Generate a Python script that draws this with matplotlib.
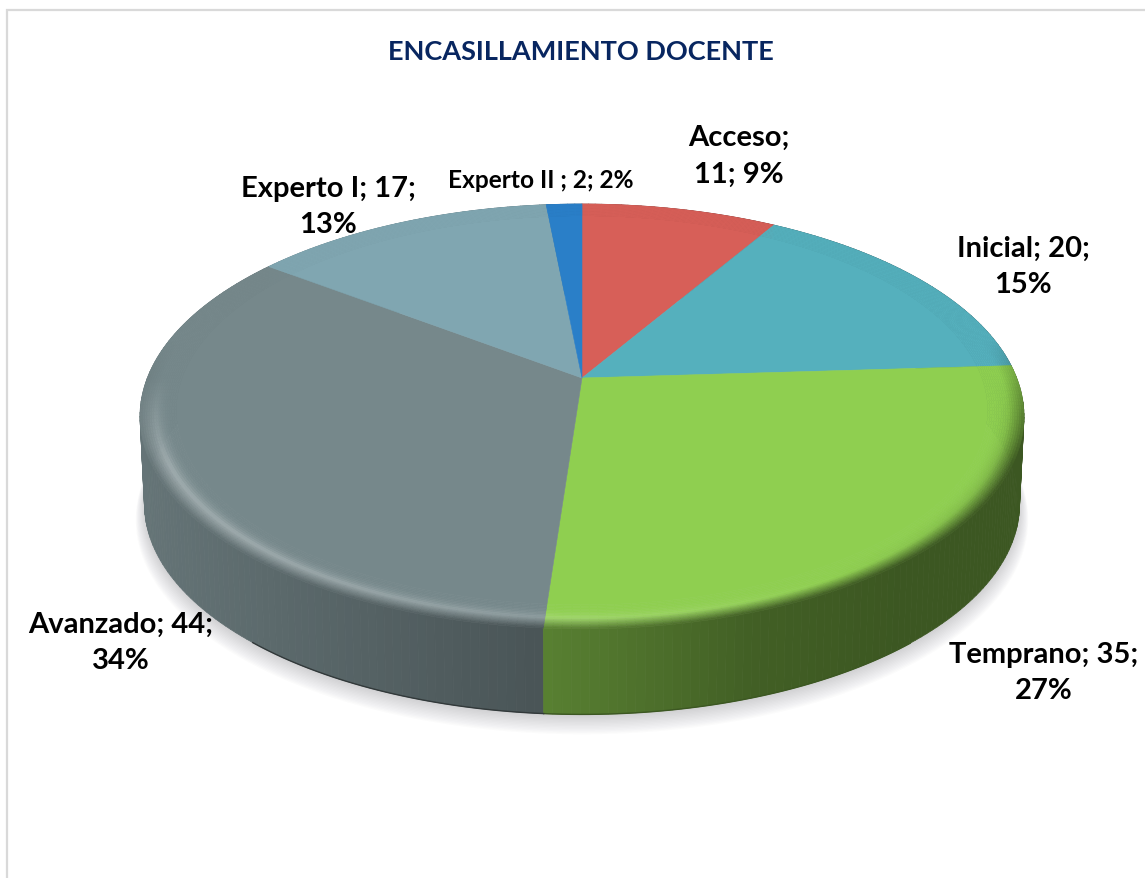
import matplotlib
matplotlib.use("Agg")
import matplotlib.pyplot as plt
import numpy as np
from matplotlib.collections import PolyCollection
from matplotlib.colors import to_rgb

# datos del grafico
categorias = ["Acceso", "Inicial", "Temprano", "Avanzado", "Experto I", "Experto II "]
valores = [11, 20, 35, 44, 17, 2]
porcentajes = [9, 15, 27, 34, 13, 2]
colores = ["#d75f58", "#55b0bd", "#8fcf50", "#76888b", "#80a6b1", "#2a7fc8"]

# posicion de cada etiqueta (pixeles)
etiqueta_x = [739, 1023, 1044, 121, 328, 541]
etiqueta_y = [156, 267, 673, 643, 207, 180]

# geometria de la tarta en perspectiva
cx, cy = 582, 379
a, b, k = 434.7, 205.5, 0.181
fondo = 88
escala_fondo = 0.99


def proyecta(theta, r=1.0, dz=0.0, esc=1.0):
    # theta en radianes, sentido horario desde arriba
    x = r * np.sin(theta)
    y = r * np.cos(theta)
    d = 1 + k * y
    return cx + esc * a * x / d, cy + dz - esc * b * y / d


def factor_lado(x):
    return np.interp(x, [140, 300, 545, 750, 900], [0.86, 0.76, 0.62, 0.46, 0.42])


def luz(theta):
    # positivo a la izquierda/frente, negativo a la derecha
    return np.cos(theta - np.radians(240))


fig = plt.figure(figsize=(11.45, 8.79), dpi=100)
ax = fig.add_axes([0, 0, 1, 1])
ax.set_xlim(0, 1145)
ax.set_ylim(879, 0)
ax.axis("off")

# marco del grafico
ax.plot([7, 7, 1145], [879, 11, 11], color="#d9d9d9", lw=1.6, solid_joinstyle="miter")

# sombra bajo la tarta
t = np.linspace(0, 2 * np.pi, 400)
for i in range(14):
    sx, sy = proyecta(t, dz=fondo + 2, esc=escala_fondo + 0.0015 * i)
    sy = sy + 1.0 * i
    ax.fill(sx, sy, color="#74747c", alpha=0.022, lw=0, zorder=1)

fracciones = np.cumsum([0] + valores) / sum(valores)
angulos = 2 * np.pi * fracciones

# lateral
quads = []
caras = []
for i in range(len(valores)):
    n = max(int(np.degrees(angulos[i + 1] - angulos[i])), 2)
    th = np.linspace(angulos[i], angulos[i + 1], n + 1)
    x1, y1 = proyecta(th)
    x2, y2 = proyecta(th, dz=fondo, esc=escala_fondo)
    base = np.array(to_rgb(colores[i]))
    for j in range(n):
        quads.append([(x1[j], y1[j]), (x1[j + 1], y1[j + 1]), (x2[j + 1], y2[j + 1]), (x2[j], y2[j])])
        caras.append(tuple(base * factor_lado((x2[j] + x2[j + 1]) / 2)))
orden = np.argsort([q[2][1] for q in quads])
ax.add_collection(PolyCollection([quads[i] for i in orden], facecolors=[caras[i] for i in orden],
                                 edgecolors=[caras[i] for i in orden], linewidths=0.5, zorder=2))

# borde inferior oscuro
for i in range(len(valores)):
    th = np.linspace(angulos[i], angulos[i + 1], 100)
    th = th[np.cos(th) < -0.75]
    if len(th) > 1:
        x2, y2 = proyecta(th, dz=fondo, esc=escala_fondo)
        ax.plot(x2, y2, color=np.array(to_rgb(colores[i])) * 0.42, lw=1.0, zorder=3)

# cara superior con bisel
radios = np.linspace(0.92, 1.0, 17)
for i in range(len(valores)):
    n = max(int(np.degrees(angulos[i + 1] - angulos[i])), 2)
    th = np.linspace(angulos[i], angulos[i + 1], n + 1)
    base = np.array(to_rgb(colores[i]))
    x1, y1 = proyecta(th, r=radios[0])
    ax.fill(np.r_[cx, x1], np.r_[cy, y1], color=colores[i], lw=0.4, zorder=4)
    quads = []
    caras = []
    for r0, r1 in zip(radios[:-1], radios[1:]):
        xa, ya = proyecta(th, r=r0)
        xb, yb = proyecta(th, r=r1)
        rm = (r0 + r1) / 2
        perfil = np.clip((rm - 0.93) / 0.035, 0, 1) ** 2
        caida = np.clip((rm - 0.965) / 0.035, 0, 1)
        for j in range(n):
            tm = (th[j] + th[j + 1]) / 2
            g = luz(tm) * np.clip((0.0 - np.cos(tm)) / 0.4, 0, 1)
            c = base.copy()
            if g > 0:
                c = c + (1 - c) * 0.3 * g * perfil
            else:
                c = c * (1 - 0.2 * abs(g) * perfil)
            frente = np.clip((0.2 - np.cos(tm)) / 0.6, 0, 1)
            xm = (xb[j] + xb[j + 1]) / 2
            c = c + (base * factor_lado(xm) - c) * caida * frente
            quads.append([(xa[j], ya[j]), (xa[j + 1], ya[j + 1]), (xb[j + 1], yb[j + 1]), (xb[j], yb[j])])
            caras.append(tuple(np.clip(c, 0, 1)))
    ax.add_collection(PolyCollection(quads, facecolors=caras, edgecolors=caras, linewidths=0.4, zorder=5))

# titulo y etiquetas
ax.text(581, 52, "ENCASILLAMIENTO DOCENTE", family="Lato", fontweight="bold", fontsize=19.5,
        color="#082660", ha="center", va="center", zorder=6)
for i in range(len(valores)):
    if categorias[i] == "Experto II ":
        txt = f"{categorias[i]}; {valores[i]}; {porcentajes[i]}%"
        tam = 17.6
    elif categorias[i] == "Acceso":
        txt = f"{categorias[i]};\n{valores[i]}; {porcentajes[i]}%"
        tam = 21
    else:
        txt = f"{categorias[i]}; {valores[i]};\n{porcentajes[i]}%"
        tam = 21
    ax.text(etiqueta_x[i], etiqueta_y[i], txt, family="Lato", fontweight="bold", fontsize=tam,
            color="black", ha="center", va="center", multialignment="center", linespacing=1.52, zorder=6)

fig.savefig("out.png", dpi=100, facecolor="white")
